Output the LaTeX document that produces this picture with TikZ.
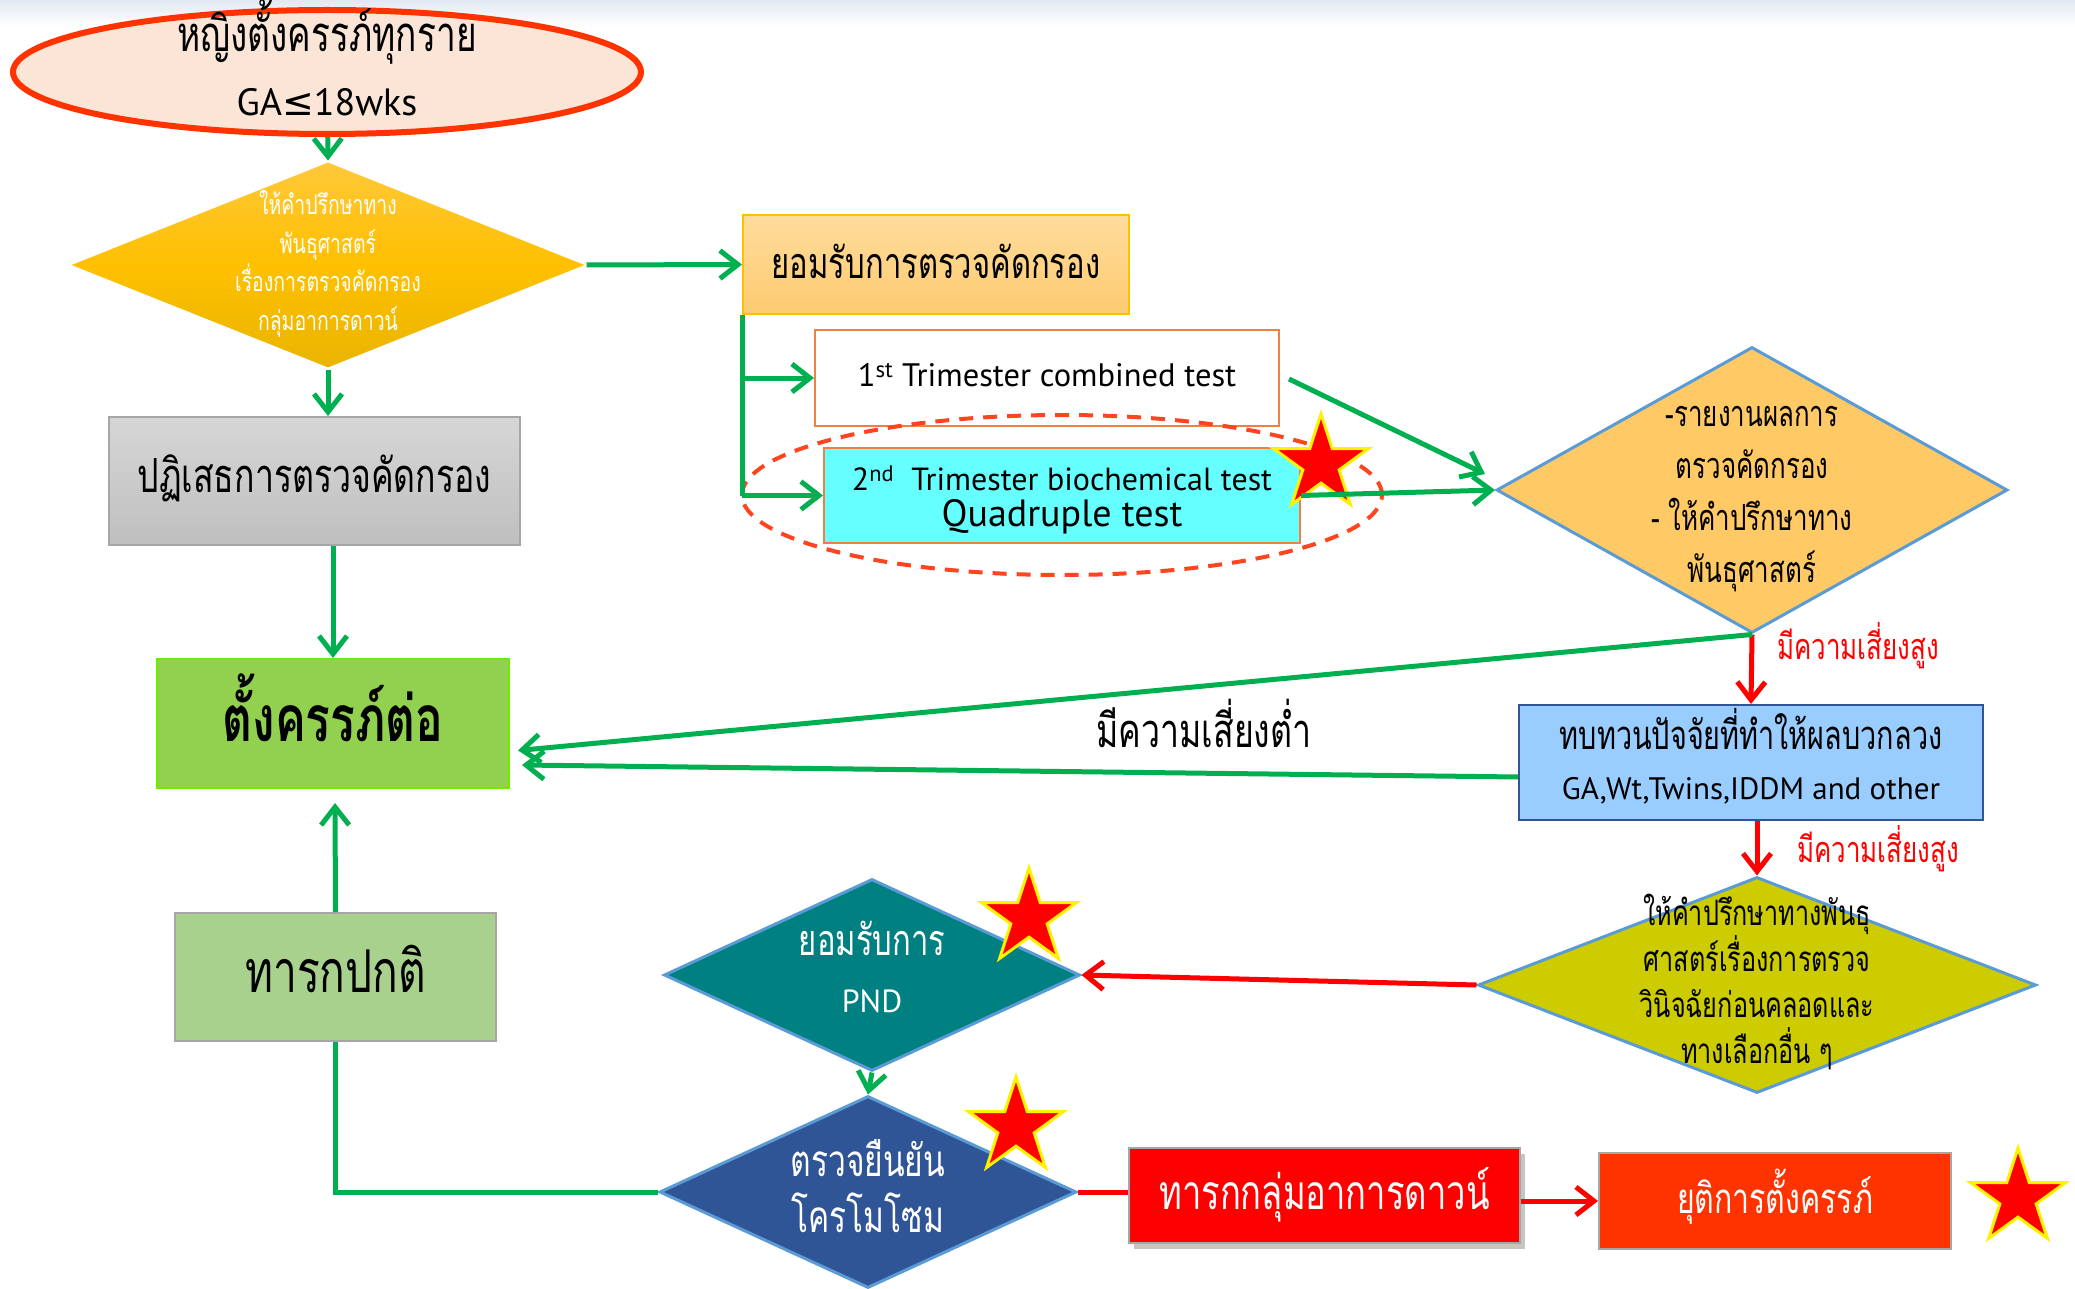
\documentclass[tikz,border=0pt]{standalone}
\usepackage{fontspec}
\setmainfont{PT Sans}
\newfontfamily\thaifont[Script=Thai,FakeStretch=0.72]{Loma}
\newfontfamily\symfont{DejaVu Sans}
\usetikzlibrary{shapes.geometric,arrows.meta,shadows}
\definecolor{ggreen}{HTML}{00B050}
\definecolor{rred}{HTML}{FF0000}
\definecolor{ellfill}{HTML}{FBE5D6}
\definecolor{ellborder}{HTML}{FF3300}
\definecolor{topband}{HTML}{E2E8F2}
\definecolor{dashred}{HTML}{FF4520}
\definecolor{boxorange}{HTML}{F08040}
\definecolor{dblue}{HTML}{5B9BD5}
\definecolor{navy}{HTML}{2F5597}
\definecolor{greyborder}{HTML}{A6A6A6}
\definecolor{goldtop}{HTML}{FFC83A}
\definecolor{goldmid}{HTML}{FFC000}
\definecolor{goldbot}{HTML}{E9B400}
\definecolor{acctop}{HTML}{FFDC9C}
\definecolor{accbot}{HTML}{FDCB70}
\definecolor{accborder}{HTML}{FFC000}
\newcommand{\fsz}[2]{\fontsize{#1pt}{#2pt}\selectfont}
\begin{document}
\begin{tikzpicture}[x=1pt,y=-1pt,
  garrow/.style={draw=ggreen, line width=5pt, -{Straight Barb[length=18pt,width=28pt]}},
  gline/.style={draw=ggreen, line width=5pt},
  rarrow/.style={draw=rred, line width=5pt, -{Straight Barb[length=18pt,width=28pt]}},
  rline/.style={draw=rred, line width=5pt},
  box/.style={rectangle, inner sep=0pt, line width=2pt},
  dia/.style={diamond, inner sep=0pt, line width=3pt, draw=dblue},
  txt/.style={inner sep=0pt, align=center},
  rstar/.style={star, star points=5, star point ratio=2.618, minimum size=100pt, inner sep=0pt, fill=red, draw=yellow, line width=3pt}]
\useasboundingbox (0,0) rectangle (2075,1289);
\fill[white] (0,0) rectangle (2075,1289);
\shade[top color=topband, bottom color=white] (0,0) rectangle (2075,26);

% ---- shapes ----
\node[ellipse, draw=ellborder, fill=ellfill, line width=6pt, minimum width=628pt, minimum height=124pt, inner sep=0pt] (ell) at (327,72) {};
\node[txt, font={\thaifont\fsz{49}{64}}] (ellt) at (327,58) {หญิงตั้งครรภ์ทุกราย\\ \normalfont\fsz{38}{64}GA{\symfont ≤}18wks};

\node[dia, draw=none, top color=goldtop, bottom color=goldbot, middle color=goldmid, minimum width=514pt, minimum height=206pt] (d1) at (328,265) {};
\node[txt, text=white, font={\thaifont\fsz{27}{38.5}}] (d1t) at (328,264) {ให้คำปรึกษาทาง\\พันธุศาสตร์\\เรื่องการตรวจคัดกรอง\\กลุ่มอาการดาวน์};

\node[box, draw=accborder, top color=acctop, bottom color=accbot, minimum width=386pt, minimum height=99pt] (accept) at (936,264.5) {};
\node[txt, font={\thaifont\fsz{43}{50}}] (acceptt) at (936,261) {ยอมรับการตรวจคัดกรอง};

\node[box, draw=greyborder, top color=black!16, bottom color=black!25, minimum width=411pt, minimum height=128pt] (reject) at (314.5,481) {};
\node[txt, font={\thaifont\fsz{47}{50}}] (rejectt) at (314.5,478) {ปฏิเสธการตรวจคัดกรอง};

\node[box, draw=black!15!green!45!lime, fill={rgb,255:red,146;green,208;blue,80}, minimum width=352pt, minimum height=129pt] (cont) at (333,723.5) {};
\node[txt, font={\thaifont\bfseries\fsz{64}{70}}] (contt) at (333,708) {ตั้งครรภ์ต่อ};

\node[box, draw=greyborder, fill={rgb,255:red,169;green,209;blue,142}, minimum width=321pt, minimum height=128pt] (normal) at (335.5,977) {};
\node[txt, font={\thaifont\fsz{59}{64}}] (normalt) at (335.5,969) {ทารกปกติ};

\node[box, draw=boxorange, fill=white, minimum width=464pt, minimum height=96pt] (first) at (1047,378) {};
\node[txt, font={\fsz{32.5}{36}}] (firstt) at (1047,375) {1\textsuperscript{st} Trimester combined test};

\draw[dashred, line width=4pt, dash pattern=on 14pt off 10pt] (1062,495) ellipse [x radius=320pt, y radius=80pt];
\node[box, draw=boxorange, fill={rgb,255:red,102;green,255;blue,255}, minimum width=476pt, minimum height=95pt] (cyan) at (1062,495.5) {};
\node[txt, font={\fsz{32}{36}}] (cyant) at (1062,500) {2\textsuperscript{nd}\ \ Trimester biochemical test\\ \fsz{38}{36}Quadruple test};

\node[dia, fill={rgb,255:red,255;green,201;blue,102}, minimum width=511pt, minimum height=286pt] (d2) at (1752,490) {};
\node[txt, font={\thaifont\fsz{36}{52}}] (d2t) at (1752,499) {-รายงานผลการ\\ตรวจคัดกรอง\\- ให้คำปรึกษาทาง\\พันธุศาสตร์};

\node[box, draw=navy, fill={rgb,255:red,153;green,204;blue,255}, minimum width=464pt, minimum height=115pt] (review) at (1751,762.5) {};
\node[txt, font={\thaifont\fsz{40}{50}}] (reviewt) at (1751,756) {ทบทวนปัจจัยที่ทำให้ผลบวกลวง\\ \normalfont\fsz{31}{50}GA,Wt,Twins,IDDM and other};

\node[dia, fill={rgb,255:red,204;green,204;blue,0}, minimum width=558pt, minimum height=216pt] (d3) at (1757,985) {};
\node[txt, font={\thaifont\fsz{35}{45.7}}] (d3t) at (1757,982) {ให้คำปรึกษาทางพันธุ\\ศาสตร์เรื่องการตรวจ\\วินิจฉัยก่อนคลอดและ\\ทางเลือกอื่น ๆ};

\node[dia, fill={rgb,255:red,0;green,128;blue,128}, minimum width=416pt, minimum height=192pt] (pnd) at (872,975) {};
\node[txt, text=white, font={\thaifont\fsz{43}{57}}] (pndt) at (872,967) {ยอมรับการ\\ \normalfont\fsz{32}{57}PND};

\node[dia, fill=navy, minimum width=417pt, minimum height=192pt] (chrom) at (868,1192) {};
\node[txt, text=white, font={\thaifont\fsz{44}{56}}] (chromt) at (868,1186) {ตรวจยืนยัน\\โครโมโซม};

\node[box, draw=greyborder, fill=rred, minimum width=391pt, minimum height=95pt, drop shadow={opacity=0.45, shadow xshift=5pt, shadow yshift=-6pt}] (down) at (1324.5,1195.5) {};
\node[txt, text=white, font={\thaifont\fsz{48}{50}}] (downt) at (1324.5,1195) {ทารกกลุ่มอาการดาวน์};

\node[box, draw=greyborder, fill={rgb,255:red,255;green,51;blue,0}, minimum width=352pt, minimum height=96pt] (stop) at (1775,1201) {};
\node[txt, text=white, font={\thaifont\fsz{42}{50}}] (stopt) at (1775,1197) {ยุติการตั้งครรภ์};

% ---- labels ----
\node[txt, text=rred, font={\thaifont\fsz{36}{40}}] (hr1) at (1858,646) {มีความเสี่ยงสูง};
\node[txt, text=rred, font={\thaifont\fsz{36}{40}}] (hr2) at (1878,849) {มีความเสี่ยงสูง};
\node[txt, font={\thaifont\fsz{47}{50}}] (lr) at (1204,723) {มีความเสี่ยงต่ำ};

% ---- stars ----
\node[rstar] (s1) at (1321,464) {};
\node[rstar] (s2) at (1029,918) {};
\node[rstar] (s3) at (1016,1127) {};
\node[rstar] (s4) at (2018,1198) {};

% ---- connectors ----
\draw[garrow] (ell) -- (d1.north);
\draw[garrow] (d1.east) -- (accept.west);
\draw[garrow] (d1.south) -- (d1.south |- reject.north);
\draw[gline] (accept.south west) -- (accept.south west |- cyan.west);
\draw[garrow] (accept.south west |- cyan.west) -- (cyan.west);
\draw[garrow] (accept.south west |- first.west) -- (first.west);
\draw[garrow] ([shift={(9,1)}]first.east) -- ([shift={(-10,-16)}]d2.west);
\draw[garrow] (cyan.east) -- (d2.west);
\draw[garrow] (reject.south -| cont.north) -- (cont.north);
\draw[rarrow] (d2.south) -- (review.north);
\draw[garrow] (d2.south) -- ([shift={(8,27)}]cont.east);
\draw[garrow] ([shift={(0,14.5)}]review.west) -- ([shift={(12,41.5)}]cont.east);
\draw[rarrow] (review.south -| d3.north) -- (d3.north);
\draw[rarrow] (d3.west) -- (pnd.east);
\draw[garrow] (pnd.south) -- (chrom.north);
\draw[gline] (chrom.west) -| (normal.south);
\draw[garrow] (normal.north) -- ([shift={(2,14)}]cont.south);
\draw[rline] (chrom.east) -- (chrom.east -| down.west);
\draw[rarrow] (down.east |- stop.west) -- (stop.west);
\end{tikzpicture}
\end{document}
